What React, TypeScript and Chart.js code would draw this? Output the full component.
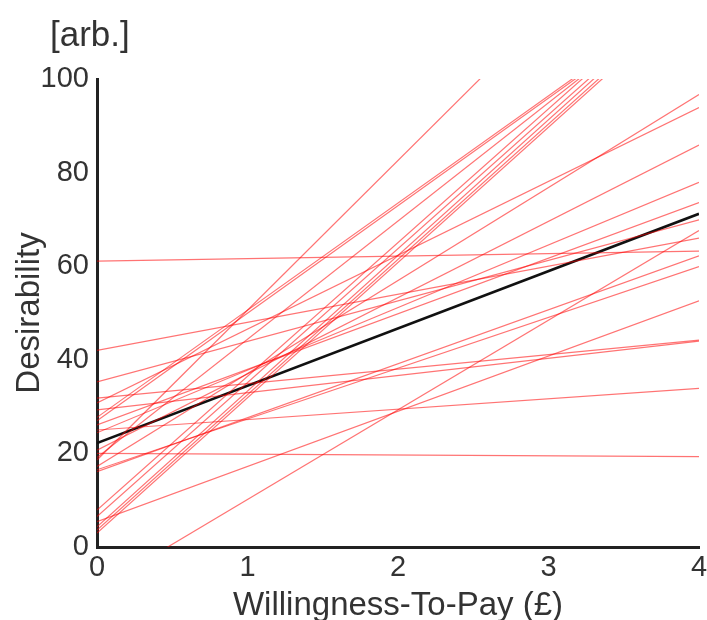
import React, { useEffect, useRef } from "react";
import { Chart, registerables } from "chart.js";

Chart.register(...registerables);

// Willingness-To-Pay axis (£)
const wtpRange = [0, 4];
const wtpTicks = [0, 1, 2, 3, 4];
const desirabilityTicks = [0, 20, 40, 60, 80, 100];

// Individual participants: desirability at WTP = £0 and at WTP = £4 (arb.)
const participantAtZero = [
  61.1, 42.0, 35.3, 31.8, 29.3, 30.8, 25.0, 20.0, -9.0, 5.4, 16.5, 17.2, 20.7,
  24.4, 26.1, 16.1, 18.6, 27.7, 27.0, 19.1, 7.9, 6.5, 4.3, 3.6, 3.0,
];
const participantAtFour = [
  63.2, 66.0, 69.9, 44.2, 44.0, 93.9, 33.9, 19.3, 67.6, 52.6, 59.9, 96.7, 85.9,
  77.9, 73.6, 62.2, 146.6, 119.3, 118.9, 120.2, 122.2, 121.0, 120.3, 119.3, 118.6,
];

// Group mean fit
const meanAtZero = 22.2;
const meanAtFour = 71.2;

const FONT = "'Liberation Sans', Arial, Helvetica, sans-serif";
const TEXT = "#333333";

export default function App() {
  const ref = useRef<HTMLCanvasElement | null>(null);

  useEffect(() => {
    if (!ref.current) return;
    const datasets: any[] = participantAtZero.map((y0, i) => ({
      label: `P${i + 1}`,
      data: [
        { x: wtpRange[0], y: y0 },
        { x: wtpRange[1], y: participantAtFour[i] },
      ],
      borderColor: "rgba(255,0,0,0.55)",
      borderWidth: 1.2,
      pointRadius: 0,
      fill: false,
    }));
    datasets.push({
      label: "Mean",
      data: [
        { x: wtpRange[0], y: meanAtZero },
        { x: wtpRange[1], y: meanAtFour },
      ],
      borderColor: "#111111",
      borderWidth: 2.6,
      pointRadius: 0,
      fill: false,
    });

    const unitLabel = {
      id: "unitLabel",
      afterDraw(chart: any) {
        const ctx = chart.ctx;
        ctx.save();
        ctx.font = `35px ${FONT}`;
        ctx.fillStyle = TEXT;
        ctx.textBaseline = "alphabetic";
        ctx.textAlign = "left";
        ctx.fillText("[arb.]", 50, 46);
        ctx.restore();
      },
    };

    const chart = new Chart(ref.current, {
      type: "line",
      data: { datasets },
      plugins: [unitLabel],
      options: {
        animation: false,
        responsive: false,
        devicePixelRatio: 1,
        layout: { padding: { top: 79, right: 8, left: 0, bottom: 0 } },
        plugins: {
          legend: { display: false },
          tooltip: { enabled: false },
          title: { display: false },
        },
        scales: {
          x: {
            type: "linear",
            min: wtpRange[0],
            max: wtpRange[1],
            afterBuildTicks: (axis: any) => {
              axis.ticks = wtpTicks.map((v) => ({ value: v }));
            },
            afterFit: (axis: any) => {
              axis.height = 73;
              axis.paddingRight = 0;
              axis.paddingLeft = 0;
            },
            grid: { display: true, drawOnChartArea: false, drawTicks: false, color: "rgba(0,0,0,0)" },
            border: { display: true, color: "#222222", width: 3 },
            ticks: {
              color: TEXT,
              font: { family: FONT, size: 29 },
              padding: 4,
              maxRotation: 0,
              autoSkip: false,
            },
            title: {
              display: true,
              text: "Willingness-To-Pay (£)",
              color: TEXT,
              font: { family: FONT, size: 33, lineHeight: 1 },
              padding: { top: 0, bottom: -2 },
            },
          },
          y: {
            type: "linear",
            min: 0,
            max: 100,
            afterBuildTicks: (axis: any) => {
              axis.ticks = desirabilityTicks.map((v) => ({ value: v }));
            },
            afterFit: (axis: any) => {
              axis.width = 97;
              axis.paddingTop = 0;
              axis.paddingBottom = 0;
            },
            grid: { display: true, drawOnChartArea: false, drawTicks: false, color: "rgba(0,0,0,0)" },
            border: { display: true, color: "#222222", width: 3 },
            ticks: {
              color: TEXT,
              font: { family: FONT, size: 29 },
              padding: 8,
              autoSkip: false,
            },
            title: {
              display: true,
              text: "Desirability",
              color: TEXT,
              font: { family: FONT, size: 33, lineHeight: 1.2 },
              padding: { top: 10, bottom: 0 },
            },
          },
        },
      },
    });
    return () => chart.destroy();
  }, []);

  return (
    <div style={{ position: "fixed", left: 0, top: 0, width: 707, height: 620, background: "#fff" }}>
      <canvas ref={ref} width={707} height={620} style={{ width: 707, height: 620, display: "block" }} />
    </div>
  );
}
